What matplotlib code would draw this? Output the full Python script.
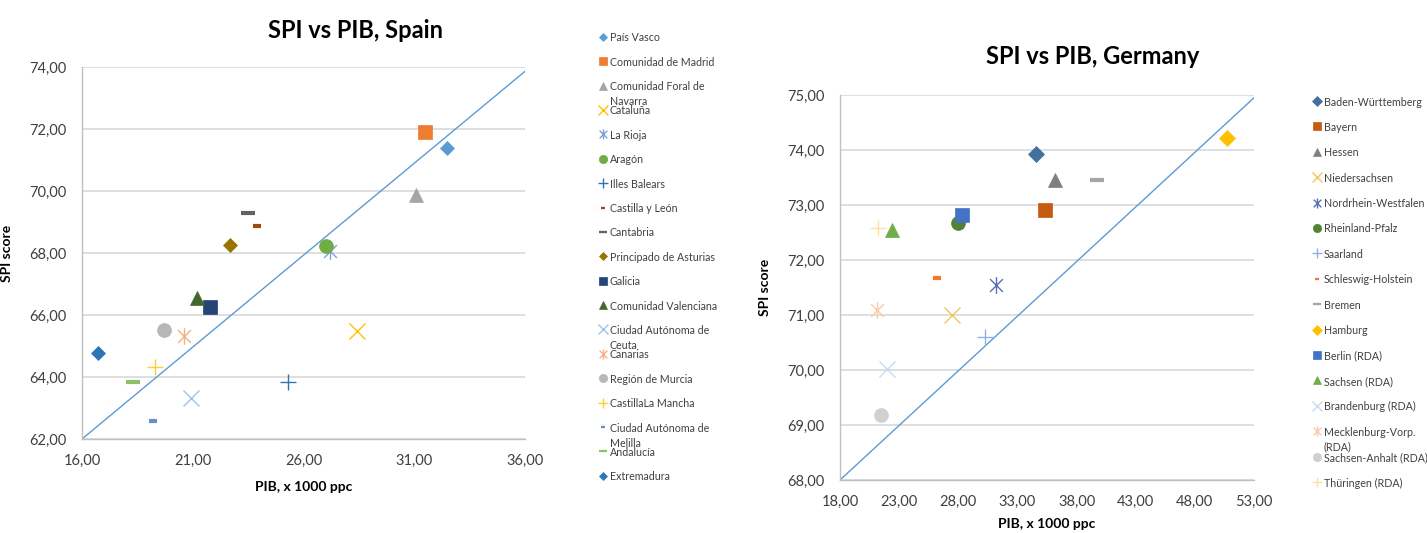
import matplotlib
matplotlib.use("Agg")
import matplotlib.pyplot as plt
import numpy as np
from matplotlib.path import Path
from matplotlib.ticker import FuncFormatter

plt.rcParams['font.family'] = ['Lato', 'DejaVu Sans']

# Excel style asterisk: an x with a vertical bar through it
ASTERISK = Path([(-1, -1), (1, 1), (-1, 1), (1, -1), (0, -1.3), (0, 1.3)],
                [Path.MOVETO, Path.LINETO] * 3)

# ---- Spain data ----
spain_regions = ["País Vasco", "Comunidad de Madrid", "Comunidad Foral de\nNavarra", "Cataluña",
                 "La Rioja", "Aragón", "Illes Balears", "Castilla y León", "Cantabria",
                 "Principado de Asturias", "Galicia", "Comunidad Valenciana",
                 "Ciudad Autónoma de\nCeuta", "Canarias", "Región de Murcia", "CastillaLa Mancha",
                 "Ciudad Autónoma de\nMelilla", "Andalucía", "Extremadura"]
spain_pib = [32.5, 31.5, 31.1, 28.4, 27.2, 27.0, 25.3, 23.9, 23.5, 22.7, 21.8, 21.2,
             20.9, 20.6, 19.7, 19.3, 19.2, 18.3, 16.7]
spain_spi = [71.40, 71.90, 69.86, 65.49, 68.06, 68.21, 63.83, 68.87, 69.30, 68.27, 66.25, 66.55,
             63.31, 65.32, 65.52, 64.33, 62.59, 63.83, 64.76]
spain_line_x = [16, 36]
spain_line_y = [62, 73.86]

# ---- Germany data ----
germany_regions = ["Baden-Württemberg", "Bayern", "Hessen", "Niedersachsen", "Nordrhein-Westfalen",
                   "Rheinland-Pfalz", "Saarland", "Schleswig-Holstein", "Bremen", "Hamburg",
                   "Berlin (RDA)", "Sachsen (RDA)", "Brandenburg (RDA)", "Mecklenburg-Vorp.\n(RDA)",
                   "Sachsen-Anhalt (RDA)", "Thüringen (RDA)"]
germany_pib = [34.6, 35.3, 36.2, 27.5, 31.2, 27.95, 30.3, 26.2, 39.7, 50.7, 28.3, 22.4,
               22.0, 21.1, 21.5, 21.2]
germany_spi = [73.92, 72.90, 73.45, 71.00, 71.55, 72.68, 70.60, 71.67, 73.45, 74.21, 72.82, 72.55,
               70.01, 71.10, 69.19, 72.58]
germany_line_x = [18, 53]
germany_line_y = [68, 74.95]

# marker styles: (marker, size, colour, edge width)
spain_styles = [
    ('D', 7, '#5B9BD5', 0), ('s', 10, '#ED7D31', 0), ('^', 10, '#A5A5A5', 0),
    ('x', 11, '#FFC000', 1), (ASTERISK, 12, '#7F9FD8', 1), ('o', 10, '#70AD47', 0),
    ('+', 12, '#2E75B6', 1), ('_', 6, '#9E480E', 3), ('_', 10, '#636363', 3),
    ('D', 7, '#997300', 0), ('s', 10, '#264478', 0), ('^', 10, '#43682B', 0),
    ('x', 11, '#9DC3E6', 1), (ASTERISK, 12, '#F4B183', 1), ('o', 10, '#B7B7B7', 0),
    ('+', 12, '#FFCD33', 1), ('_', 6, '#698ED0', 3), ('_', 10, '#8CC168', 3),
    ('D', 7, '#2E75B6', 0),
]
germany_styles = [
    ('D', 8, '#41719C', 0), ('s', 10, '#C55A11', 0), ('^', 10, '#7F7F7F', 0),
    ('x', 11, '#F0C75E', 1), (ASTERISK, 12, '#5B6FB5', 1), ('o', 10, '#548235', 0),
    ('+', 12, '#8DB3E2', 1), ('_', 6, '#F4772C', 3), ('_', 10, '#A5A5A5', 3),
    ('D', 8, '#FFC000', 0), ('s', 10, '#4472C4', 0), ('^', 10, '#70AD47', 0),
    ('x', 11, '#C9DAF0', 1), (ASTERISK, 12, '#F8CBAD', 1), ('o', 10, '#D0D0D0', 0),
    ('+', 12, '#FFE0A0', 1),
]

W, H = 1427, 533
fig = plt.figure(figsize=(W / 100, H / 100), dpi=100)


def comma_fmt(v, pos):
    return f"{v:.2f}".replace('.', ',')


def draw_marker(ax, x, y, style, scale=1.0):
    m, s, c, lw = style
    if lw == 0:
        ax.plot(x, y, linestyle='none', marker=m, markersize=s * scale,
                markerfacecolor=c, markeredgecolor=c, markeredgewidth=0.5)
    else:
        ax.plot(x, y, linestyle='none', marker=m, markersize=s * scale,
                markeredgecolor=c, markerfacecolor='none',
                markeredgewidth=lw if scale == 1.0 else max(lw * 0.55, 1.0))


def make_chart(rect, pib, spi, styles, line_x, line_y, xlim, ylim, xstep, ystep,
               title, title_xy, xpad):
    ax = fig.add_axes(rect)
    ax.set_xlim(*xlim)
    ax.set_ylim(*ylim)
    ax.set_xticks(np.arange(xlim[0], xlim[1] + 0.01, xstep))
    ax.set_yticks(np.arange(ylim[0], ylim[1] + 0.01, ystep))
    ax.xaxis.set_major_formatter(FuncFormatter(comma_fmt))
    ax.yaxis.set_major_formatter(FuncFormatter(comma_fmt))
    ax.grid(axis='y', color='#D9D9D9', linewidth=1.2)
    ax.set_axisbelow(True)
    for side in ['top', 'right']:
        ax.spines[side].set_visible(False)
    for side in ['left', 'bottom']:
        ax.spines[side].set_color('#BFBFBF')
        ax.spines[side].set_linewidth(1.0)
    ax.tick_params(length=0, labelsize=10.5, labelcolor='#404040', pad=11)
    ax.plot(line_x, line_y, color='#5B9BD5', linewidth=1.0, zorder=2)
    for x, y, st in zip(pib, spi, styles):
        draw_marker(ax, x, y, st)
    ax.set_ylabel('SPI score', fontsize=10, fontweight='bold', labelpad=12)
    ax.set_xlabel('PIB, x 1000 ppc', fontsize=10, fontweight='bold', labelpad=xpad)
    fig.text(title_xy[0] / W, 1 - title_xy[1] / H, title, fontsize=17, fontweight='bold',
             ha='center', va='center', color='#000000')
    return ax


make_chart([82 / W, 1 - 439 / H, (525 - 82) / W, (439 - 67) / H],
           spain_pib, spain_spi, spain_styles, spain_line_x, spain_line_y,
           (16, 36), (62, 74), 5, 2, 'SPI vs PIB, Spain', (355, 30), 9)
make_chart([840 / W, 1 - 480 / H, (1254 - 840) / W, (480 - 95) / H],
           germany_pib, germany_spi, germany_styles, germany_line_x, germany_line_y,
           (18, 53), (68, 75), 5, 1, 'SPI vs PIB, Germany', (1093, 57), 6)

# legends drawn in pixel space, Excel-style (two-line labels overlap the next row)
leg = fig.add_axes([0, 0, 1, 1])
leg.set_xlim(0, W)
leg.set_ylim(H, 0)
leg.axis('off')


def draw_legend(labels, styles, x0, y0, step):
    for i, (lab, st) in enumerate(zip(labels, styles)):
        y = y0 + i * step
        draw_marker(leg, x0, y, st, scale=0.6)
        leg.text(x0 + 7, y - 4.5, lab, fontsize=7.7, color='#404040', va='top',
                 ha='left', linespacing=1.45)


draw_legend(spain_regions, spain_styles, 603, 36.7, 24.4)
draw_legend(germany_regions, germany_styles, 1317, 101, 25.4)

fig.savefig('out.png', dpi=100)
